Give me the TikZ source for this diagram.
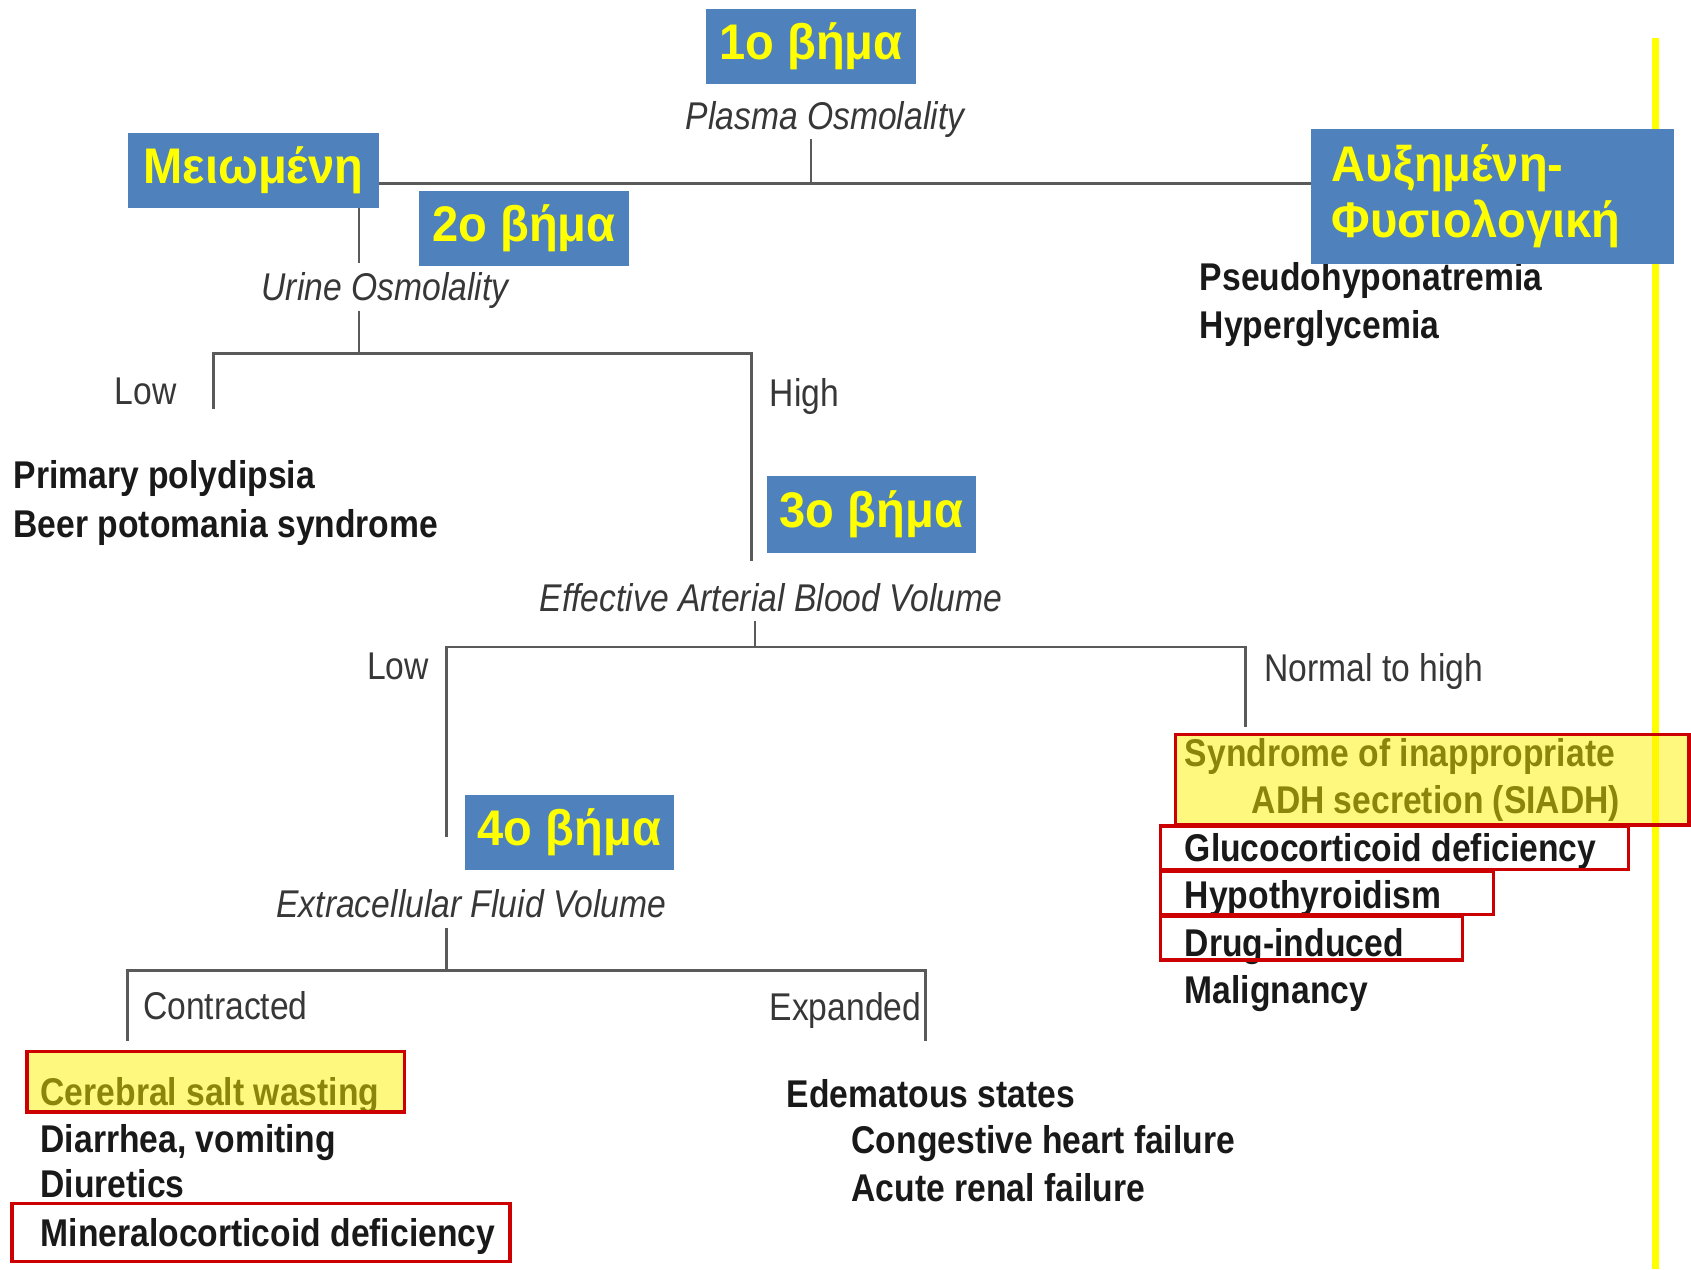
\documentclass[tikz,border=0pt]{standalone}
\usepackage{fontspec}
\setmainfont{Liberation Sans}
\newfontfamily\narrowfont[FakeStretch=0.87]{Liberation Sans}
\newfontfamily\stepfont[FakeStretch=0.94]{Liberation Sans}
\usetikzlibrary{backgrounds}

\definecolor{stepblue}{RGB}{79,129,189}
\definecolor{stepyellow}{RGB}{255,255,0}
\definecolor{hlred}{RGB}{204,0,0}
\definecolor{linegray}{RGB}{90,90,90}
\definecolor{txtgray}{RGB}{55,55,55}

\begin{document}
\begin{tikzpicture}[x=0.01cm,y=-0.01cm,
        tree/.style={draw=linegray,line width=0.7pt},
        stepbox/.style={fill=stepblue,text=stepyellow,inner sep=0pt,
                        font=\stepfont\fontsize{13.2}{15}\selectfont\bfseries},
        head/.style={font=\narrowfont\fontsize{10.2}{12}\selectfont\itshape,
                     text=txtgray,inner sep=1.5pt,text height=8.2pt,text depth=1pt},
        branch/.style={font=\narrowfont\fontsize{10.2}{12}\selectfont,
                       text=txtgray,inner sep=0pt,text height=8.2pt,text depth=1pt},
        cause/.style={font=\narrowfont\fontsize{10.2}{12}\selectfont\bfseries,
                      text=black!90,anchor=west,inner sep=0pt,
                      text height=8.2pt,text depth=1pt},
        hlbox/.style={draw=hlred,line width=0.9pt},
        hlfill/.style={hlbox,fill=yellow,fill opacity=0.5}]
      \useasboundingbox (0,0) rectangle (1568,1177);

      % decision levels
      \node[head] (plasma) at (765,107) {Plasma Osmolality};
      \node[head] (urine)  at (357,266) {Urine Osmolality};
      \node[head] (eabv)   at (715,554) {Effective Arterial Blood Volume};
      \node[head] (ecfv)   at (437,838) {Extracellular Fluid Volume};

      % branch labels
      \node[branch] (lowU)   at (135,362)  {Low};
      \node[branch] (highU)  at (746,364)  {High};
      \node[branch] (lowE)   at (369,617)  {Low};
      \node[branch] (normE)  at (1274,619) {Normal to high};
      \node[branch] (contr)  at (209,933)  {Contracted};
      \node[branch] (expd)   at (784,934)  {Expanded};

      % causes
      \node[cause] (pseudo)   at (1112,257) {Pseudohyponatremia};
      \node[cause] (hyperg)   at (1112,301) {Hyperglycemia};
      \node[cause] (primary)  at (12,440)   {Primary polydipsia};
      \node[cause] (beer)     at (12,486)   {Beer potomania syndrome};
      \node[cause] (siadhA)   at (1098,698) {Syndrome of inappropriate};
      \node[cause] (siadhB)   at (1160,742) {ADH secretion (SIADH)};
      \node[cause] (gluco)    at (1098,786) {Glucocorticoid deficiency};
      \node[cause] (hypo)     at (1098,830) {Hypothyroidism};
      \node[cause] (drug)     at (1098,874) {Drug-induced};
      \node[cause] (malig)    at (1098,918) {Malignancy};
      \node[cause] (cerebral) at (37,1012)  {Cerebral salt wasting};
      \node[cause] (diarr)    at (37,1056)  {Diarrhea, vomiting};
      \node[cause] (diur)     at (37,1098)  {Diuretics};
      \node[cause] (mineral)  at (37,1143)  {Mineralocorticoid deficiency};
      \node[cause] (edema)    at (729,1014) {Edematous states};
      \node[cause] (chf)      at (789,1057) {Congestive heart failure};
      \node[cause] (arf)      at (789,1101) {Acute renal failure};

      % junctions
      \coordinate (jP)  at (752,170);
      \coordinate (jPL) at (333,170);
      \coordinate (jPR) at (1262,170);
      \coordinate (jU)  at (333,328);
      \coordinate (jUL) at (198,328);
      \coordinate (jUR) at (697,328);
      \coordinate (jE)  at (700,600);
      \coordinate (jEL) at (414,600);
      \coordinate (jER) at (1155,600);
      \coordinate (jX)  at (414,900);
      \coordinate (jXL) at (118,900);
      \coordinate (jXR) at (858,900);

      \begin{scope}[on background layer]
        \draw[tree] (plasma.south -| jP) -- (jP);
        \draw[tree] (jPL) -- (jPR);
        \draw[tree] (jPL) -- (jPL |- urine.north);
        \draw[tree] (urine.south -| jU) -- (jU);
        \draw[tree] (jUL |- lowU.south) -- (jUL) -- (jUR) -- ++(0,192);
        \draw[tree] (eabv.south -| jE) -- (jE);
        \draw[tree] (jEL |- ecfv.north) ++(0,-40) -- (jEL) -- (jER) -- (jER |- normE.south) -- ++(0,38);
        \draw[tree] (ecfv.south -| jX) -- (jX);
        \draw[tree] (jXL) ++(0,65) -- (jXL) -- (jXR) -- ++(0,65);
        % right margin rule
        \draw[stepyellow,line width=1.7pt] (1535,35) -- (1535,1177);
      \end{scope}

      % highlighted causes
      \draw[hlfill] (1090,681) rectangle (1566,765);
      \draw[hlbox]  (1076,766) rectangle (1510,806);
      \draw[hlbox]  (1076,808) rectangle (1385,848);
      \draw[hlbox]  (1076,850) rectangle (1356,890);
      \draw[hlfill] (25,975)   rectangle (375,1031);
      \draw[hlbox]  (11,1116)  rectangle (473,1170);

      % steps
      \node[stepbox,minimum width=1.95cm,minimum height=0.70cm] (step1) at (752,43)  {1ο βήμα};
      \node[stepbox,minimum width=1.94cm,minimum height=0.70cm] (step2) at (486,212) {2ο βήμα};
      \node[stepbox,minimum width=1.94cm,minimum height=0.71cm] (step3) at (808,477) {3ο βήμα};
      \node[stepbox,minimum width=1.94cm,minimum height=0.70cm] (step4) at (528,772) {4ο βήμα};
      \node[stepbox,minimum width=2.33cm,minimum height=0.69cm] (decr)  at (235,158) {Μειωμένη};
      \node[stepbox,minimum width=3.36cm,minimum height=1.25cm,
            inner xsep=0.19cm,text width=2.98cm,align=left] (incr) at (1384,182)
            {Αυξημένη-\\Φυσιολογική};
    \end{tikzpicture}
\end{document}
